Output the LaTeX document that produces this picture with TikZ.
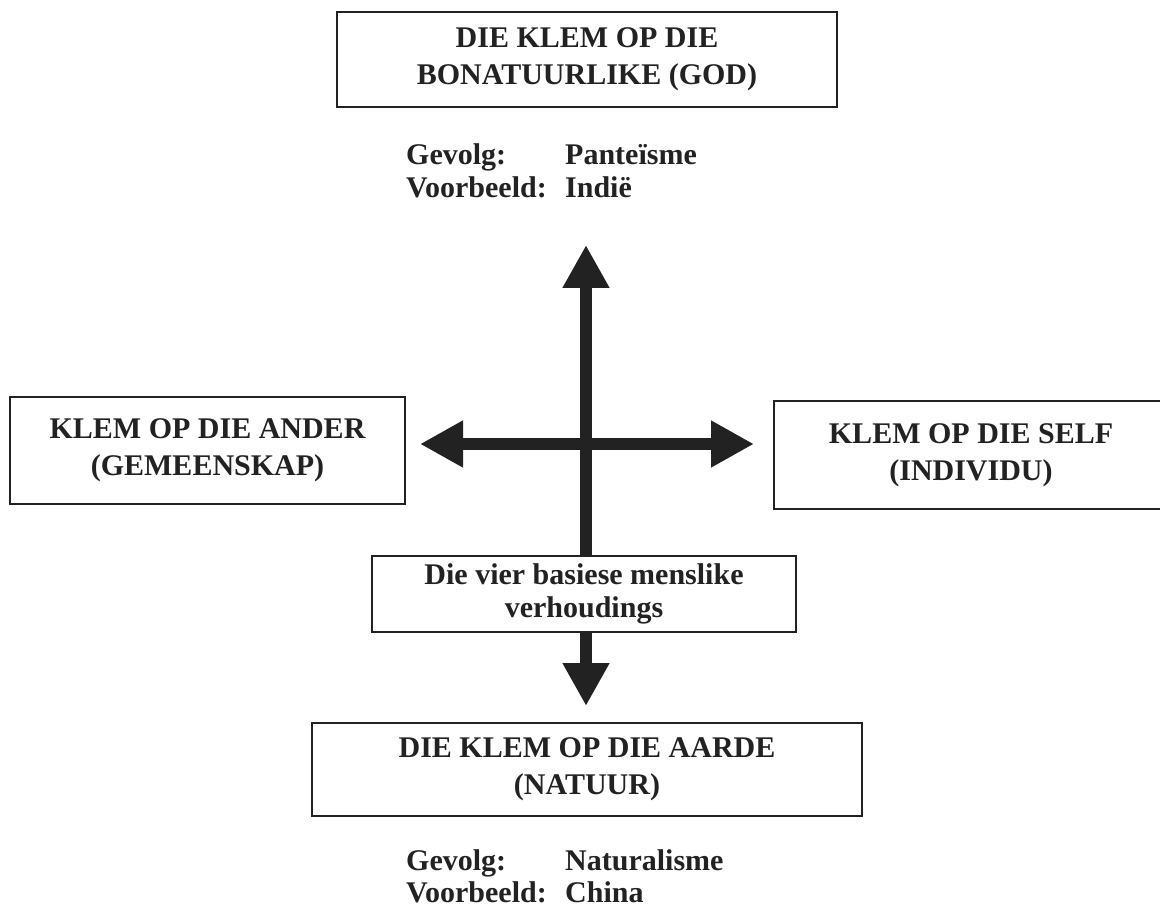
\documentclass[tikz,border=0pt]{standalone}
\usepackage{fontspec}
\setmainfont{Liberation Serif}
\usetikzlibrary{arrows.meta}
\definecolor{ink}{HTML}{222222}
\tikzset{
  bighead/.tip={Triangle[length=43pt,width=44pt]},
  box/.style={draw=ink, line width=2pt, fill=white, inner sep=0pt, align=center,
              font=\fontsize{30}{37}\selectfont\bfseries, text=ink},
  note/.style={anchor=base west, inner sep=0pt,
               font=\fontsize{30}{37}\selectfont\bfseries, text=ink},
  fatarrow/.style={draw=ink, line width=12pt},
}
\begin{document}
\begin{tikzpicture}[x=1pt,y=-1pt]
\useasboundingbox (0,0) rectangle (1160,912);

% the four relationships and the centre label
\node[box, minimum width=500pt, minimum height=95pt] (god) at (587,59.5)
  {DIE KLEM OP DIE\\BONATUURLIKE (GOD)};
\node[box, minimum width=395pt, minimum height=107pt] (ander) at (207.5,450.5)
  {KLEM OP DIE ANDER\\(GEMEENSKAP)};
\node[box, minimum width=394pt, minimum height=108pt] (self) at (971,455)
  {KLEM OP DIE SELF\\(INDIVIDU)};
\node[box, minimum width=424pt, minimum height=76pt,
      font=\fontsize{30}{33}\selectfont\bfseries] (mid) at (584,594)
  {Die vier basiese menslike\\verhoudings};
\node[box, minimum width=550pt, minimum height=93pt] (aarde) at (587,769.5)
  {DIE KLEM OP DIE AARDE\\(NATUUR)};

% consequences and examples
\node[note] (g1) at (406,165) {Gevolg:};
\node[note] (g1v) at (565,165) {Panteïsme};
\node[note] (v1) at (406,198) {Voorbeeld:};
\node[note] (v1v) at (565,198) {Indië};
\node[note] (g2) at (406,870) {Gevolg:};
\node[note] (g2v) at (565,870) {Naturalisme};
\node[note] (v2) at (406,902) {Voorbeeld:};
\node[note] (v2v) at (565,902) {China};

% axes
\coordinate (uptip) at (586,245);
\coordinate (downtip) at (586,706);
\coordinate (ltip) at (420,444);
\coordinate (rtip) at (754,444);
\draw[fatarrow, -bighead] (uptip |- mid.north) -- (uptip);
\draw[fatarrow, -bighead] (downtip |- mid.south) -- (downtip);
\draw[fatarrow, bighead-bighead] (ltip) -- (rtip);
\end{tikzpicture}
\end{document}
